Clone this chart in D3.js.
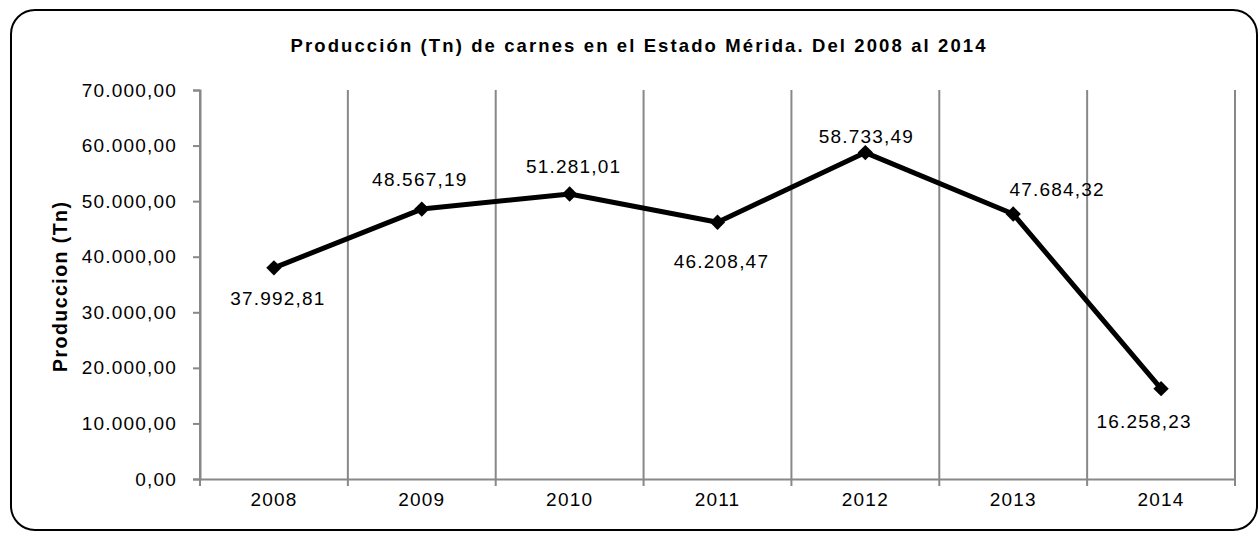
<!DOCTYPE html>
<html>
<head>
<meta charset="utf-8">
<script src="https://cdn.jsdelivr.net/npm/d3@7"></script>
<style>
  body { margin: 0; background: #fff; }
  text { font-family: "Liberation Sans", Arial, sans-serif; fill: #000; }
</style>
</head>
<body>
<div id="chart"></div>
<script>
// Data
const years = ["2008", "2009", "2010", "2011", "2012", "2013", "2014"];
const produccion = [37992.81, 48567.19, 51281.01, 46208.47, 58733.49, 47684.32, 16258.23];
const yTicks = [0, 10000, 20000, 30000, 40000, 50000, 60000, 70000];

// label offsets relative to each point (dx to text centre, dy to baseline)
const labelOffsets = [[4, 37], [-2, -23], [4, -21], [4, 46], [1, -10], [44, -18], [-17, 39]];

const width = 1259, height = 533;
const margin = { left: 200, right: 24, top: 90, bottom: 54 };

const svg = d3.select("#chart").append("svg")
    .attr("width", width)
    .attr("height", height);

// Outer rounded frame
svg.append("rect")
    .attr("x", 11).attr("y", 10)
    .attr("width", 1246).attr("height", 520)
    .attr("rx", 24)
    .attr("fill", "none")
    .attr("stroke", "#000")
    .attr("stroke-width", 2);

const x = d3.scaleBand()
    .domain(years)
    .range([margin.left, width - margin.right])
    .padding(0);

const y = d3.scaleLinear()
    .domain([0, 70000])
    .range([height - margin.bottom, margin.top]);

const es = d3.formatLocale({ decimal: ",", thousands: ".", grouping: [3], currency: ["", ""] });
const fmt = es.format(",.2f");

const grey = "#888";

// Vertical gridlines at category boundaries (also serve as x ticks)
const bounds = years.map(d => x(d)).concat([x(years[years.length - 1]) + x.bandwidth()]);
svg.append("g")
    .selectAll("line")
    .data(bounds)
    .enter().append("line")
    .attr("x1", d => d).attr("x2", d => d)
    .attr("y1", y(70000)).attr("y2", y(0) + 7)
    .attr("stroke", grey)
    .attr("stroke-width", 2);

// Y axis
const yAxis = svg.append("g")
    .attr("transform", `translate(${margin.left},0)`)
    .call(d3.axisLeft(y).tickValues(yTicks).tickFormat(fmt).tickSize(7).tickPadding(16));
yAxis.select(".domain").attr("stroke", grey).attr("stroke-width", 2);
yAxis.selectAll(".tick line").attr("stroke", grey).attr("stroke-width", 2);
yAxis.selectAll(".tick text")
    .style("font-size", "19px")
    .style("letter-spacing", "1.2px")
    .attr("fill", "#000");

// X axis
const xAxis = svg.append("g")
    .attr("transform", `translate(0,${y(0)})`)
    .call(d3.axisBottom(x).tickSize(0).tickPadding(14));
xAxis.select(".domain").attr("stroke", grey).attr("stroke-width", 2);
xAxis.selectAll(".tick text")
    .style("font-size", "19px")
    .style("letter-spacing", "1.2px")
    .attr("fill", "#000");

// Line
const line = d3.line()
    .x((d, i) => x(years[i]) + x.bandwidth() / 2)
    .y(d => y(d));

svg.append("path")
    .datum(produccion)
    .attr("d", line)
    .attr("fill", "none")
    .attr("stroke", "#000")
    .attr("stroke-width", 5)
    .attr("stroke-linejoin", "round");

// Diamond markers
svg.append("g")
    .selectAll("path")
    .data(produccion)
    .enter().append("path")
    .attr("d", d3.symbol().type(d3.symbolDiamond2).size(150))
    .attr("transform", (d, i) => `translate(${x(years[i]) + x.bandwidth() / 2},${y(d)})`)
    .attr("fill", "#000");

// Data labels
svg.append("g")
    .selectAll("text")
    .data(produccion)
    .enter().append("text")
    .attr("x", (d, i) => x(years[i]) + x.bandwidth() / 2 + labelOffsets[i][0])
    .attr("y", (d, i) => y(d) + labelOffsets[i][1])
    .attr("text-anchor", "middle")
    .style("font-size", "19px")
    .style("letter-spacing", "1.2px")
    .text(d => fmt(d));

// Title
svg.append("text")
    .attr("x", 638)
    .attr("y", 52)
    .attr("text-anchor", "middle")
    .attr("textLength", 695)
    .attr("lengthAdjust", "spacing")
    .style("font-size", "18.5px")
    .style("font-weight", "bold")
    .text("Producción (Tn) de carnes en el Estado Mérida. Del 2008 al 2014");

// Y axis title
svg.append("text")
    .attr("transform", `translate(67,${287}) rotate(-90)`)
    .attr("text-anchor", "middle")
    .attr("textLength", 170)
    .attr("lengthAdjust", "spacing")
    .style("font-size", "19.5px")
    .style("font-weight", "bold")
    .text("Produccion (Tn)");
</script>
</body>
</html>
